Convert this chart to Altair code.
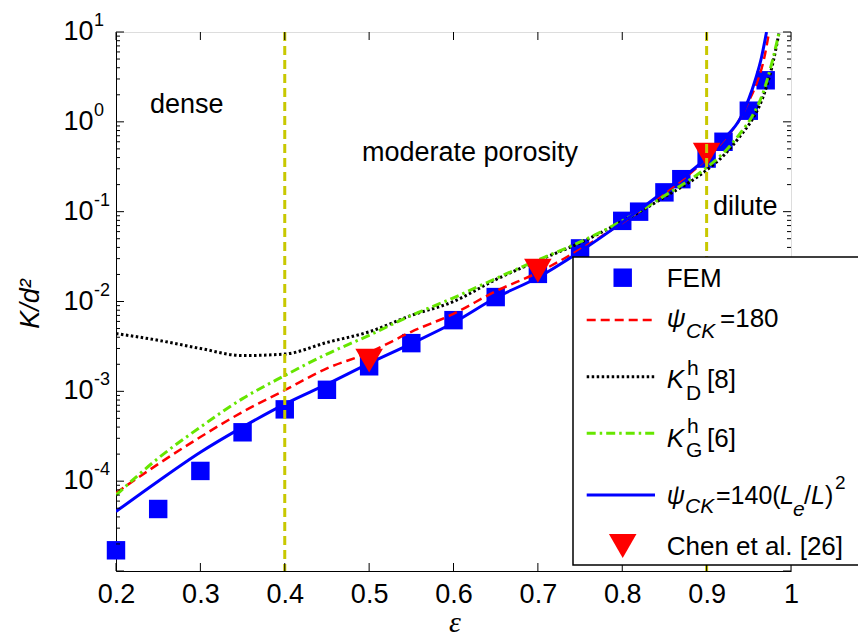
import altair as alt
import pandas as pd

# ---------------- data ----------------
eps_fem = [0.20, 0.25, 0.30, 0.35, 0.40, 0.45, 0.50, 0.55, 0.60, 0.65, 0.70,
           0.75, 0.80, 0.82, 0.85, 0.87, 0.90, 0.92, 0.95, 0.97]
k_fem = [1.7e-5, 4.9e-5, 1.3e-4, 3.5e-4, 6.3e-4, 1.04e-3, 1.9e-3, 3.44e-3,
         6.2e-3, 1.12e-2, 2.03e-2, 3.9e-2, 7.9e-2, 1.0e-1, 1.64e-1, 2.3e-1,
         3.9e-1, 6.0e-1, 1.33, 2.9]

eps_chen = [0.5, 0.7, 0.9]
k_chen = [2.2e-3, 2.2e-2, 4.3e-1]

eps_red = [0.20, 0.25, 0.30, 0.35, 0.40, 0.45, 0.50, 0.55, 0.60, 0.65, 0.70,
           0.75, 0.80, 0.85, 0.90, 0.92, 0.94, 0.95, 0.96, 0.968, 0.974]
k_red = [7.4e-5, 1.55e-4, 3.1e-4, 5.9e-4, 1.03e-3, 1.8e-3, 2.7e-3, 4.6e-3,
         7.3e-3, 1.3e-2, 2.1e-2, 3.8e-2, 7.5e-2, 0.16, 0.39, 0.62, 1.1, 1.7, 2.8, 5.0, 10.0]

eps_blk = [0.20, 0.25, 0.30, 0.35, 0.40, 0.45, 0.50, 0.55, 0.60, 0.65, 0.70,
           0.75, 0.80, 0.85, 0.90, 0.92, 0.94, 0.955, 0.966, 0.978, 0.986]
k_blk = [4.4e-3, 3.7e-3, 3.0e-3, 2.5e-3, 2.6e-3, 3.5e-3, 4.6e-3, 7.0e-3,
         1.0e-2, 1.75e-2, 2.85e-2, 4.5e-2, 7.8e-2, 0.145, 0.29, 0.42, 0.70, 1.1, 1.8, 4.3, 10.0]

eps_grn = [0.20, 0.25, 0.30, 0.35, 0.40, 0.45, 0.50, 0.55, 0.60, 0.65, 0.70,
           0.75, 0.80, 0.85, 0.90, 0.92, 0.94, 0.955, 0.966, 0.978, 0.986]
k_grn = [7.0e-5, 1.8e-4, 4.0e-4, 8.3e-4, 1.5e-3, 2.6e-3, 4.2e-3, 7.0e-3,
         1.1e-2, 1.8e-2, 2.9e-2, 4.6e-2, 7.9e-2, 0.15, 0.31, 0.45, 0.75, 1.2, 2.0, 4.8, 10.0]

eps_blu = [0.20, 0.25, 0.30, 0.35, 0.40, 0.45, 0.50, 0.55, 0.60, 0.65, 0.70,
           0.75, 0.80, 0.85, 0.90, 0.92, 0.94, 0.95, 0.958, 0.965, 0.971]
k_blu = [4.6e-5, 1.0e-4, 2.1e-4, 4.0e-4, 7.2e-4, 1.2e-3, 2.05e-3, 3.4e-3,
         5.8e-3, 1.1e-2, 1.85e-2, 3.6e-2, 7.6e-2, 0.17, 0.40, 0.64, 1.1, 1.8, 3.0, 5.2, 10.0]

region_lines = [0.4, 0.9]
x_ticks = [0.2, 0.3, 0.4, 0.5, 0.6, 0.7, 0.8, 0.9, 1.0]
y_decades = [1e-5, 1e-4, 1e-3, 1e-2, 1e-1, 1e0, 1e1]
y_label_vals = [1e1, 1e0, 1e-1, 1e-2, 1e-3, 1e-4]
y_label_exp = ["1", "0", "-1", "-2", "-3", "-4"]
y_minor = [m * 10.0 ** d for d in range(-5, 1) for m in range(2, 10)]

W, H = 675, 539
FONT = "Liberation Sans"
FS = 27      # axis labels / annotations
LF = 26      # legend text
SF = 21      # sub/superscripts

xs = alt.Scale(domain=[0.2, 1.0], nice=False, zero=False)
ys = alt.Scale(type="log", domain=[1e-5, 10], nice=False)
xaxis = alt.Axis(values=x_ticks, labelExpr="datum.value == 1 ? '1' : format(datum.value, '.1f')",
                 ticks=False, tickSize=0, labelPadding=10, labelFontSize=FS, labelFont=FONT,
                 labelColor="black", domainColor="black", domainWidth=1, grid=False,
                 title=None, labelFlush=False, labelOverlap=False)
yaxis = alt.Axis(labels=False, ticks=False, tickSize=0, domainColor="black", domainWidth=1,
                 grid=False, title=None)

X = lambda f="x": alt.X(f"{f}:Q", scale=xs, axis=xaxis)
Y = lambda f="y": alt.Y(f"{f}:Q", scale=ys, axis=yaxis)


def series(xv, yv):
    return pd.DataFrame({"x": xv, "y": yv})


def line(xv, yv, color, dash, width):
    kw = dict(color=color, strokeWidth=width, interpolate="monotone", clip=True)
    if dash:
        kw["strokeDash"] = dash
    return alt.Chart(series(xv, yv)).mark_line(**kw).encode(x=X(), y=Y())


one = [{"a": 1}]


def txt(s, x, y, size=LF, style="normal", align="left", baseline="alphabetic",
        font=FONT, angle=0):
    kw = dict(align=align, baseline=baseline, fontSize=size, fontStyle=style,
              font=font, color="black")
    if angle:
        kw["angle"] = angle
    return alt.Chart(alt.Data(values=[{"t": s}])).mark_text(**kw).encode(
        x=alt.value(x), y=alt.value(y), text="t:N")


def leg_line(y, color, dash, width):
    kw = dict(color=color, strokeWidth=width)
    if dash:
        kw["strokeDash"] = dash
    return alt.Chart(alt.Data(values=one)).mark_rule(**kw).encode(
        x=alt.value(470.7), x2=alt.value(539), y=alt.value(y))


def leg_sym(y, shape, size):
    fill = "#0000FF" if shape == "square" else "#FF0000"
    return alt.Chart(alt.Data(values=one)).mark_point(
        shape=shape, size=size, filled=True, color=fill, opacity=1).encode(
        x=alt.value(506.7), y=alt.value(y))


RED_DASH = [9, 5]
BLK_DOT = [2.5, 2.5]
GRN_DD = [9, 4, 2.5, 4]

layers = []

# FEM squares
layers.append(alt.Chart(series(eps_fem, k_fem)).mark_point(
    shape="square", size=340, filled=True, color="#0000FF", opacity=1).encode(x=X(), y=Y()))
# model curves
layers.append(line(eps_red, k_red, "#FF0000", RED_DASH, 2.5))
layers.append(line(eps_blk, k_blk, "black", BLK_DOT, 3))
layers.append(line(eps_grn, k_grn, "#66E600", GRN_DD, 3))
layers.append(line(eps_blu, k_blu, "#0000FF", None, 3))
# Chen et al.
layers.append(alt.Chart(series(eps_chen, k_chen)).mark_point(
    shape="triangle-down", size=760, filled=True, color="#FF0000", opacity=1).encode(x=X(), y=Y()))
# region separators
layers.append(alt.Chart(pd.DataFrame({"x": region_lines})).mark_rule(
    color="#C8C800", strokeWidth=3, strokeDash=[9, 5]).encode(x=X()))

# inward ticks
tx = pd.DataFrame({"x": x_ticks})
layers.append(alt.Chart(tx).mark_rule(color="black", strokeWidth=1).encode(
    x=X(), y=alt.value(H), y2=alt.value(H - 8)))
layers.append(alt.Chart(tx).mark_rule(color="black", strokeWidth=1).encode(
    x=X(), y=alt.value(0), y2=alt.value(8)))
ty = pd.DataFrame({"y": y_decades})
layers.append(alt.Chart(ty).mark_rule(color="black", strokeWidth=1).encode(
    y=Y(), x=alt.value(0), x2=alt.value(8)))
layers.append(alt.Chart(ty).mark_rule(color="black", strokeWidth=1).encode(
    y=Y(), x=alt.value(W), x2=alt.value(W - 8)))
tm = pd.DataFrame({"y": y_minor})
layers.append(alt.Chart(tm).mark_rule(color="black", strokeWidth=1).encode(
    y=Y(), x=alt.value(0), x2=alt.value(4)))
layers.append(alt.Chart(tm).mark_rule(color="black", strokeWidth=1).encode(
    y=Y(), x=alt.value(W), x2=alt.value(W - 4)))

# y tick labels 10^n
yl = pd.DataFrame({"y": y_label_vals, "base": ["10"] * len(y_label_vals), "e": y_label_exp})
layers.append(alt.Chart(yl).mark_text(align="right", baseline="middle", fontSize=FS,
                                      font=FONT, color="black").encode(
    y=Y(), x=alt.value(-22.5), text="base:N"))
layers.append(alt.Chart(yl).mark_text(align="left", baseline="alphabetic", fontSize=18,
                                      font=FONT, color="black", dy=-6).encode(
    y=Y(), x=alt.value(-22), text="e:N"))

# axis titles
layers.append(txt("ε", 339, 600, size=30, style="italic", align="center", font="Liberation Serif"))
layers.append(txt("K/d²", -85, 272, size=27, style="italic", align="center",
                  baseline="middle", angle=270))

# region annotations
layers.append(txt("dense", 34, 81, size=FS))
layers.append(txt("moderate porosity", 246, 129, size=FS))
layers.append(txt("dilute", 597, 183, size=FS))

# legend box
layers.append(alt.Chart(alt.Data(values=one)).mark_rect(
    fill="white", stroke="black", strokeWidth=1.5).encode(
    x=alt.value(457), x2=alt.value(790), y=alt.value(225), y2=alt.value(533)))
layers.append(leg_sym(245.7, "square", 340))
layers.append(txt("FEM", 550.7, 254.7))
layers.append(leg_line(288, "#FF0000", RED_DASH, 2.5))
layers.append(txt("ψ", 550.7, 295, style="italic"))
layers.append(txt("CK", 570, 306, size=SF, style="italic"))
layers.append(txt("=180", 604, 295))
layers.append(leg_line(344.7, "black", BLK_DOT, 3))
layers.append(txt("K", 550.7, 356, style="italic"))
layers.append(txt("h", 571, 343, size=SF))
layers.append(txt("D", 570, 368, size=SF))
layers.append(txt("[8]", 591, 356))
layers.append(leg_line(401.3, "#66E600", GRN_DD, 3))
layers.append(txt("K", 550.7, 414.5, style="italic"))
layers.append(txt("h", 571, 401, size=SF))
layers.append(txt("G", 570, 424.5, size=SF))
layers.append(txt("[6]", 591, 414.5))
layers.append(leg_line(463, "#0000FF", None, 3))
layers.append(txt("ψ", 550.7, 472, size=25, style="italic"))
layers.append(txt("CK", 569, 481, size=SF, style="italic"))
layers.append(txt("=140(", 600, 472, size=25))
layers.append(txt("L", 664, 472, size=25, style="italic"))
layers.append(txt("e", 677, 484, size=SF, style="italic"))
layers.append(txt("/", 688, 472, size=25))
layers.append(txt("L", 695, 472, size=25, style="italic"))
layers.append(txt(")", 709, 472, size=25))
layers.append(txt("2", 719, 457, size=19))
layers.append(leg_sym(514, "triangle-down", 760))
layers.append(txt("Chen et al. [26]", 550.7, 523))

chart = alt.layer(*layers).properties(
    width=W, height=H,
    autosize=alt.AutoSizeParams(type="none"),
    padding={"left": 108, "top": 24, "right": 67, "bottom": 62},
).configure_view(stroke="black", strokeWidth=1).configure(background="white")

chart.save("out.html", embed_options={"renderer": "svg", "actions": False})
